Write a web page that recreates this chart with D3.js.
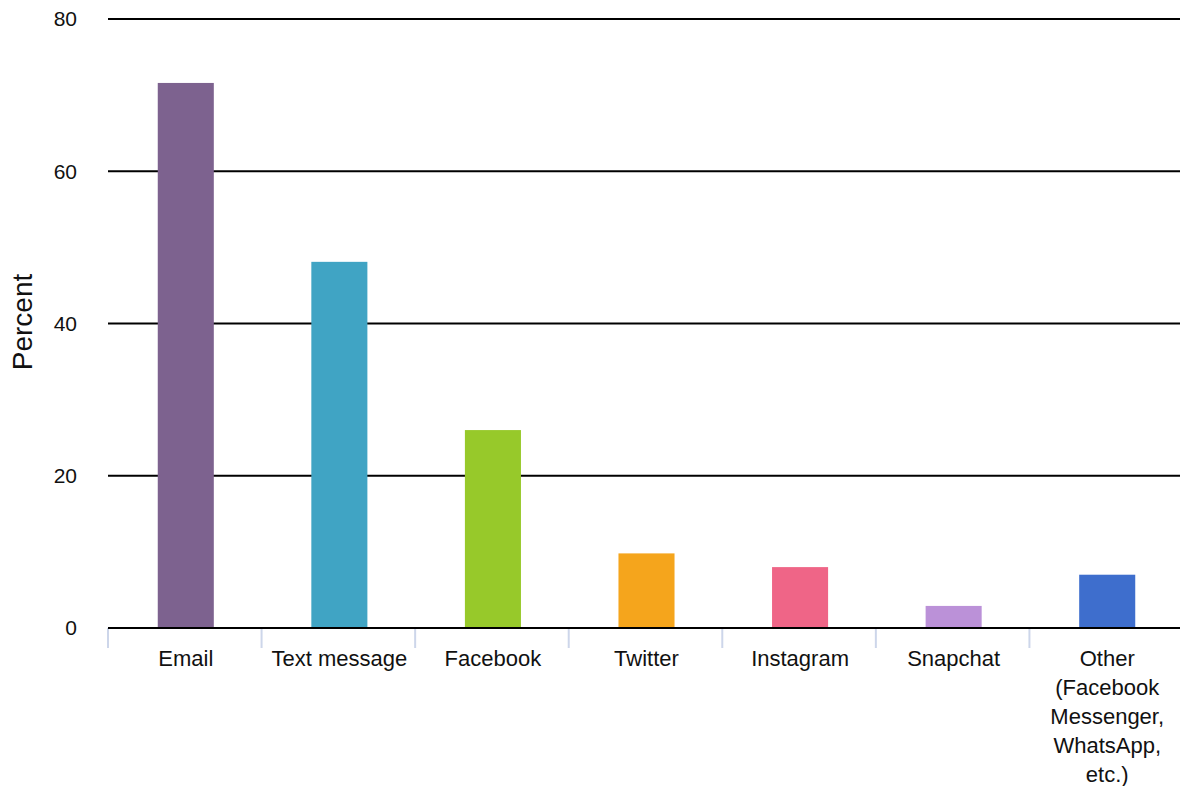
<!DOCTYPE html>
<html><head><meta charset="utf-8">
<script src="https://cdn.jsdelivr.net/npm/d3@7"></script>
<style>body{margin:0;background:#fff}svg{display:block}text{font-family:"Liberation Sans",Arial,sans-serif;fill:#111}</style>
</head><body><svg id="c" width="1180" height="786"></svg>
<script>
const categories = ["Email","Text message","Facebook","Twitter","Instagram","Snapchat","Other (Facebook Messenger, WhatsApp, etc.)"];
const labelLines = [["Email"],["Text message"],["Facebook"],["Twitter"],["Instagram"],["Snapchat"],["Other","(Facebook","Messenger,","WhatsApp,","etc.)"]];
const values = [71.6,48.1,26.0,9.8,8.0,2.9,7.0];
const colors = ["#7d628f","#40a4c4","#97c92a","#f5a51c","#ef6587","#bb91d8","#3e6ecd"];
const yTicks = [0,20,40,60,80];

const svg = d3.select("#c");
const m = {l:108,r:1183,t:19,b:628};
const x = d3.scaleBand().domain(categories).range([m.l,m.r]).paddingInner(0.635).paddingOuter(0.3175);
const y = d3.scaleLinear().domain([0,80]).range([m.b,m.t]);

// gridlines
svg.append("g").selectAll("line").data(yTicks.filter(d=>d>0)).join("line")
  .attr("x1",m.l).attr("x2",m.r).attr("y1",d=>y(d)).attr("y2",d=>y(d))
  .attr("stroke","#000").attr("stroke-width",2);

// y labels
svg.append("g").selectAll("text").data(yTicks).join("text")
  .attr("x",77).attr("y",d=>y(d)).attr("dy","0.35em").attr("text-anchor","end")
  .attr("font-size",21).text(d=>d);

svg.append("text").attr("transform","translate(32,322) rotate(-90)")
  .attr("text-anchor","middle").attr("font-size",28).text("Percent");

// bars
svg.append("g").selectAll("rect").data(values).join("rect")
  .attr("x",(d,i)=>x(categories[i])+1).attr("width",x.bandwidth())
  .attr("y",d=>y(d)).attr("height",d=>y(0)-y(d))
  .attr("fill",(d,i)=>colors[i]);

// category ticks
const step = x.step();
const bounds = d3.range(categories.length+1).map(i=>m.l+i*step);
svg.append("g").selectAll("line").data(bounds).join("line")
  .attr("x1",d=>d).attr("x2",d=>d).attr("y1",m.b).attr("y2",m.b+20)
  .attr("stroke","#cdd6ea").attr("stroke-width",2);

// axis line
svg.append("line").attr("x1",m.l).attr("x2",m.r).attr("y1",m.b).attr("y2",m.b)
  .attr("stroke","#000").attr("stroke-width",2);

// x labels
const lg = svg.append("g");
categories.forEach((c,i)=>{
  const cx = x(c)+x.bandwidth()/2+1;
  labelLines[i].forEach((ln,j)=>{
    lg.append("text").attr("x",cx).attr("y",666+j*29).attr("text-anchor","middle")
      .attr("font-size",22).text(ln);
  });
});
</script></body></html>
